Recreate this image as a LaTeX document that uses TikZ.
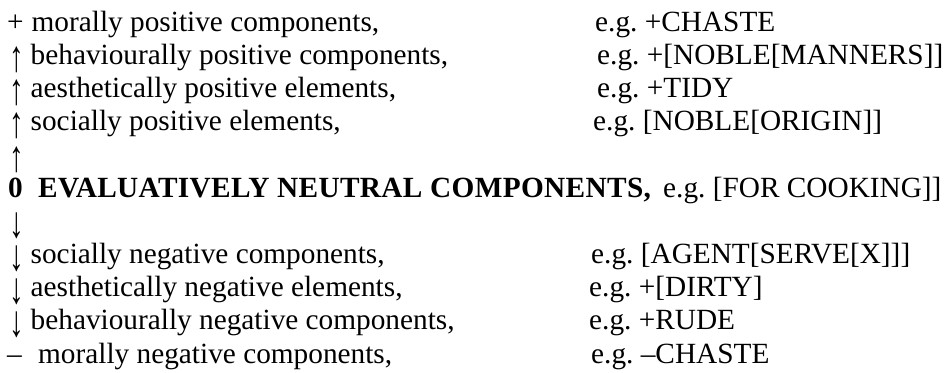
\documentclass[tikz,border=0pt]{standalone}
\usepackage{fontspec}
\setmainfont{Liberation Serif}
\frenchspacing
\newcommand{\uparr}{\smash{\raisebox{-7pt}{\scalebox{1}[1.5]{↑}}}}
\newcommand{\downarr}{\smash{\raisebox{-7pt}{\scalebox{1}[1.5]{↓}}}}
\begin{document}
\begin{tikzpicture}[x=1pt,y=-1pt,
  txt/.style={anchor=base west, inner sep=0pt, font=\fontsize{29.3}{34}\selectfont},
  arr/.style={txt},
  bold/.style={txt, font=\fontsize{29.3}{34}\selectfont\bfseries}]
\useasboundingbox (0,0) rectangle (944,372);
% positive side
\node[txt] (s1) at (7,31.5) {+};
\node[txt] (d1) at (31.5,31.5) {morally positive components,};
\node[txt] (e1) at (595,31.5) {e.g. +CHASTE};
\node[arr] (s2) at (9.5,64.6) {\uparr};
\node[txt] (d2) at (30.5,64.6) {behaviourally positive components,};
\node[txt] (e2) at (597,64.6) {e.g. +[NOBLE[MANNERS]]};
\node[arr] (s3) at (9.5,97.8) {\uparr};
\node[txt] (d3) at (30.5,97.8) {aesthetically positive elements,};
\node[txt] (e3) at (597,97.8) {e.g. +TIDY};
\node[arr] (s4) at (9.5,130.9) {\uparr};
\node[txt] (d4) at (30.5,130.9) {socially positive elements,};
\node[txt] (e4) at (593,130.9) {e.g. [NOBLE[ORIGIN]]};
\node[arr] (s5) at (9.5,164.1) {\uparr};
% neutral
\node[bold] (s6) at (8,197.2) {0};
\node[bold] (d6) at (38,197.2) {\addfontfeature{LetterSpace=1.2}EVALUATIVELY NEUTRAL COMPONENTS,};
\node[txt] (e6) at (663,197.2) {e.g. [FOR COOKING]]};
% negative side
\node[arr] (s7) at (9.5,230.4) {\downarr};
\node[arr] (s8) at (9.5,263.5) {\downarr};
\node[txt] (d8) at (30.5,263.5) {socially negative components,};
\node[txt] (e8) at (591,263.5) {e.g. [AGENT[SERVE[X]]]};
\node[arr] (s9) at (9.5,296.7) {\downarr};
\node[txt] (d9) at (30.5,296.7) {aesthetically negative elements,};
\node[txt] (e9) at (589,296.7) {e.g. +[DIRTY]};
\node[arr] (s10) at (9.5,329.8) {\downarr};
\node[txt] (d10) at (30.5,329.8) {behaviourally negative components,};
\node[txt] (e10) at (589,329.8) {e.g. +RUDE};
\node[txt] (s11) at (7,363) {–};
\node[txt] (d11) at (38,363) {morally negative components,};
\node[txt] (e11) at (591,363) {e.g. –CHASTE};
\end{tikzpicture}
\end{document}
